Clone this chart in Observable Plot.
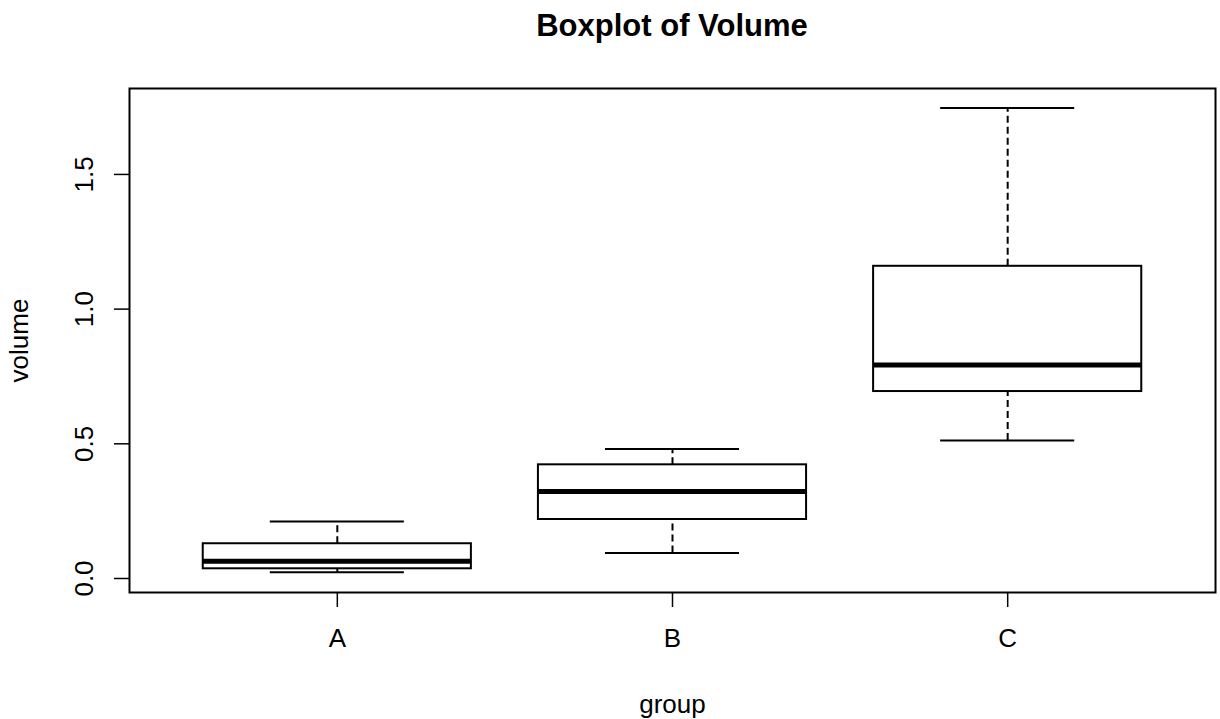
<!DOCTYPE html>
<html>
<head>
<meta charset="utf-8">
<script src="https://cdn.jsdelivr.net/npm/d3@7"></script>
<script src="https://cdn.jsdelivr.net/npm/@observablehq/plot@0.6"></script>
<style>
  body { margin: 0; background: #fff; font-family: "Liberation Sans", Arial, sans-serif; }
  #title { height: 60px; line-height: 51px; text-align: center; font-size: 31px; font-weight: bold; color: #000; width: 1344px; }
</style>
</head>
<body>
<div id="title">Boxplot of Volume</div>
<div id="chart"></div>
<script>
const groups = ["A", "B", "C"];
const lowerWhisker = [0.023, 0.095, 0.512];
const q1 = [0.036, 0.219, 0.694];
const median = [0.064, 0.323, 0.793];
const q3 = [0.129, 0.422, 1.159];
const upperWhisker = [0.212, 0.481, 1.747];
const yTicks = [0, 0.5, 1, 1.5];

const data = groups.map((g, i) => ({
  pos: i + 1,
  g,
  lo: lowerWhisker[i], q1: q1[i], med: median[i], q3: q3[i], hi: upperWhisker[i]
}));

const chart = Plot.plot({
  width: 1220,
  height: 659,
  marginTop: 28,
  marginBottom: 127,
  marginLeft: 129,
  marginRight: 5,
  style: { fontFamily: "Liberation Sans, Arial, sans-serif", color: "#000", background: "#fff" },
  x: { domain: [0.38, 3.62] },
  y: { domain: [-0.052, 1.819] },
  marks: [
    Plot.ruleX(data, { x: "pos", y1: "q3", y2: "hi", stroke: "#000", strokeWidth: 2, strokeDasharray: "7,4" }),
    Plot.ruleX(data, { x: "pos", y1: "lo", y2: "q1", stroke: "#000", strokeWidth: 2, strokeDasharray: "7,4" }),
    Plot.ruleY(data, { y: "hi", x1: d => d.pos - 0.2, x2: d => d.pos + 0.2, stroke: "#000", strokeWidth: 2 }),
    Plot.ruleY(data, { y: "lo", x1: d => d.pos - 0.2, x2: d => d.pos + 0.2, stroke: "#000", strokeWidth: 2 }),
    Plot.rect(data, { x1: d => d.pos - 0.4, x2: d => d.pos + 0.4, y1: "q1", y2: "q3", fill: "#fff", stroke: "#000", strokeWidth: 2 }),
    Plot.ruleY(data, { y: "med", x1: d => d.pos - 0.4, x2: d => d.pos + 0.4, stroke: "#000", strokeWidth: 5 }),
    Plot.frame({ stroke: "#000", strokeWidth: 2 }),
    Plot.axisY({ ticks: yTicks, tickFormat: d3.format(".1f"), tickSize: 15, tickPadding: 22, tickRotate: -90, fontSize: 26, label: null, stroke: "#000", strokeWidth: 1.5 }),
    Plot.axisX({ ticks: [1, 2, 3], tickFormat: d => groups[d - 1], tickSize: 15, tickPadding: 21, fontSize: 26, label: null, stroke: "#000", strokeWidth: 1.5 }),
    Plot.text(["group"], { frameAnchor: "bottom", dy: 112, text: d => d, fontSize: 26, lineAnchor: "middle", fill: "#000" }),
    Plot.text(["volume"], { frameAnchor: "left", dx: -110, rotate: -90, text: d => d, fontSize: 26, lineAnchor: "middle", textAnchor: "middle", fill: "#000" })
  ]
});
document.getElementById("chart").appendChild(chart);
</script>
</body>
</html>
